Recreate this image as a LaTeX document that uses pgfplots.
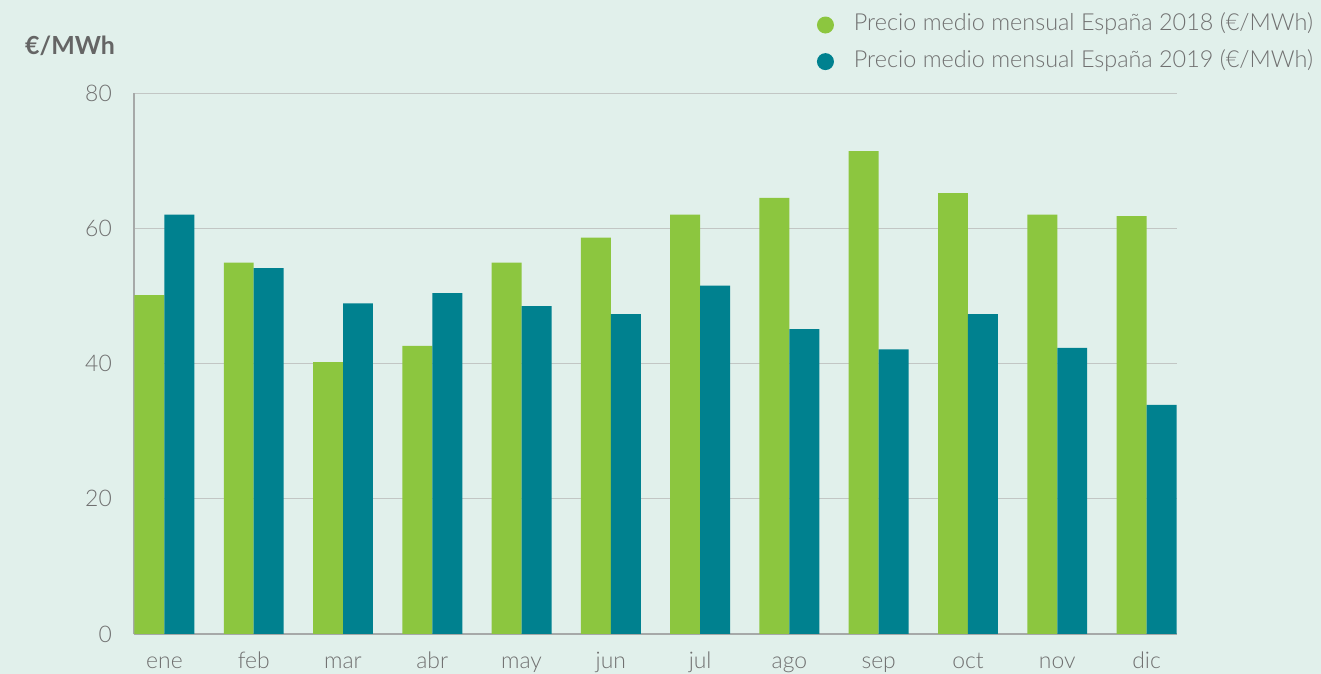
\documentclass[border=0pt]{standalone}
\usepackage{pgfplots}
\pgfplotsset{compat=1.18}
\usepackage{fontspec}
\setmainfont{Lato Light}[BoldFont=Lato Bold]
\definecolor{bg}{HTML}{E1F0EB}
\definecolor{cgreen}{HTML}{8CC63F}
\definecolor{cteal}{HTML}{00818F}
\definecolor{txt}{HTML}{707070}
\definecolor{gridc}{HTML}{C2C6C4}
\definecolor{axc}{HTML}{A6A9A8}
\begin{document}
\begin{tikzpicture}
\fill[bg] (-134bp,-40bp) rectangle (1187bp,634bp);
\begin{axis}[
  scale only axis,
  width=1043bp, height=541bp,
  ybar=0pt, bar width=0.3356,
  xmin=-0.341, xmax=11.341,
  ymin=0, ymax=80,
  xtick={0,...,11},
  xticklabels={ene,feb,mar,abr,may,jun,jul,ago,sep,oct,nov,dic},
  ytick={0,20,40,60,80},
  axis x line*=bottom, axis y line*=left,
  axis line style={draw=axc, line width=1.3bp, -},
  major tick length=0pt,
  ymajorgrids, grid style={draw=gridc, line width=1bp},
  /pgf/number format/assume math mode=true,
  tick label style={font=\fontsize{23}{27}\selectfont, text=txt, inner sep=0pt},
  yticklabel style={anchor=east, xshift=-22bp},
  xticklabel style={anchor=base, yshift=-34bp},
  legend style={draw=none, fill=none, inner sep=0pt, outer sep=0pt,
    at={(1.1304,1.1451)}, anchor=north east,
    font=\fontsize{23.5}{27}\selectfont, text=txt,
    nodes={inner sep=0pt, text height=16bp, text depth=5bp},
    row sep=15.6bp,
    /tikz/every odd column/.style={column sep=20bp}},
  legend cell align=left,
  legend image code/.code={\fill[#1] (0bp,0bp) circle (8.5bp);},
]
\addplot[fill=cgreen, draw=none] coordinates {
(0,50.1) (1,54.9) (2,40.2) (3,42.6) (4,54.9) (5,58.6) (6,62.0) (7,64.5) (8,71.4) (9,65.2) (10,62.0) (11,61.8)};
\addlegendentry{Precio medio mensual España 2018 (€/MWh)}
\addplot[fill=cteal, draw=none] coordinates {
(0,62.0) (1,54.1) (2,48.9) (3,50.4) (4,48.5) (5,47.3) (6,51.5) (7,45.1) (8,42.1) (9,47.3) (10,42.3) (11,33.9)};
\addlegendentry{Precio medio mensual España 2019 (€/MWh)}
\end{axis}
\node[anchor=base west, inner sep=0pt, text=txt!90!black, font=\bfseries\fontsize{25}{30}\selectfont] at (-109bp,579bp) {€/MWh};
\pgfresetboundingbox
\path[use as bounding box] (-134bp,-40bp) rectangle (1187bp,634bp);
\end{tikzpicture}
\end{document}
